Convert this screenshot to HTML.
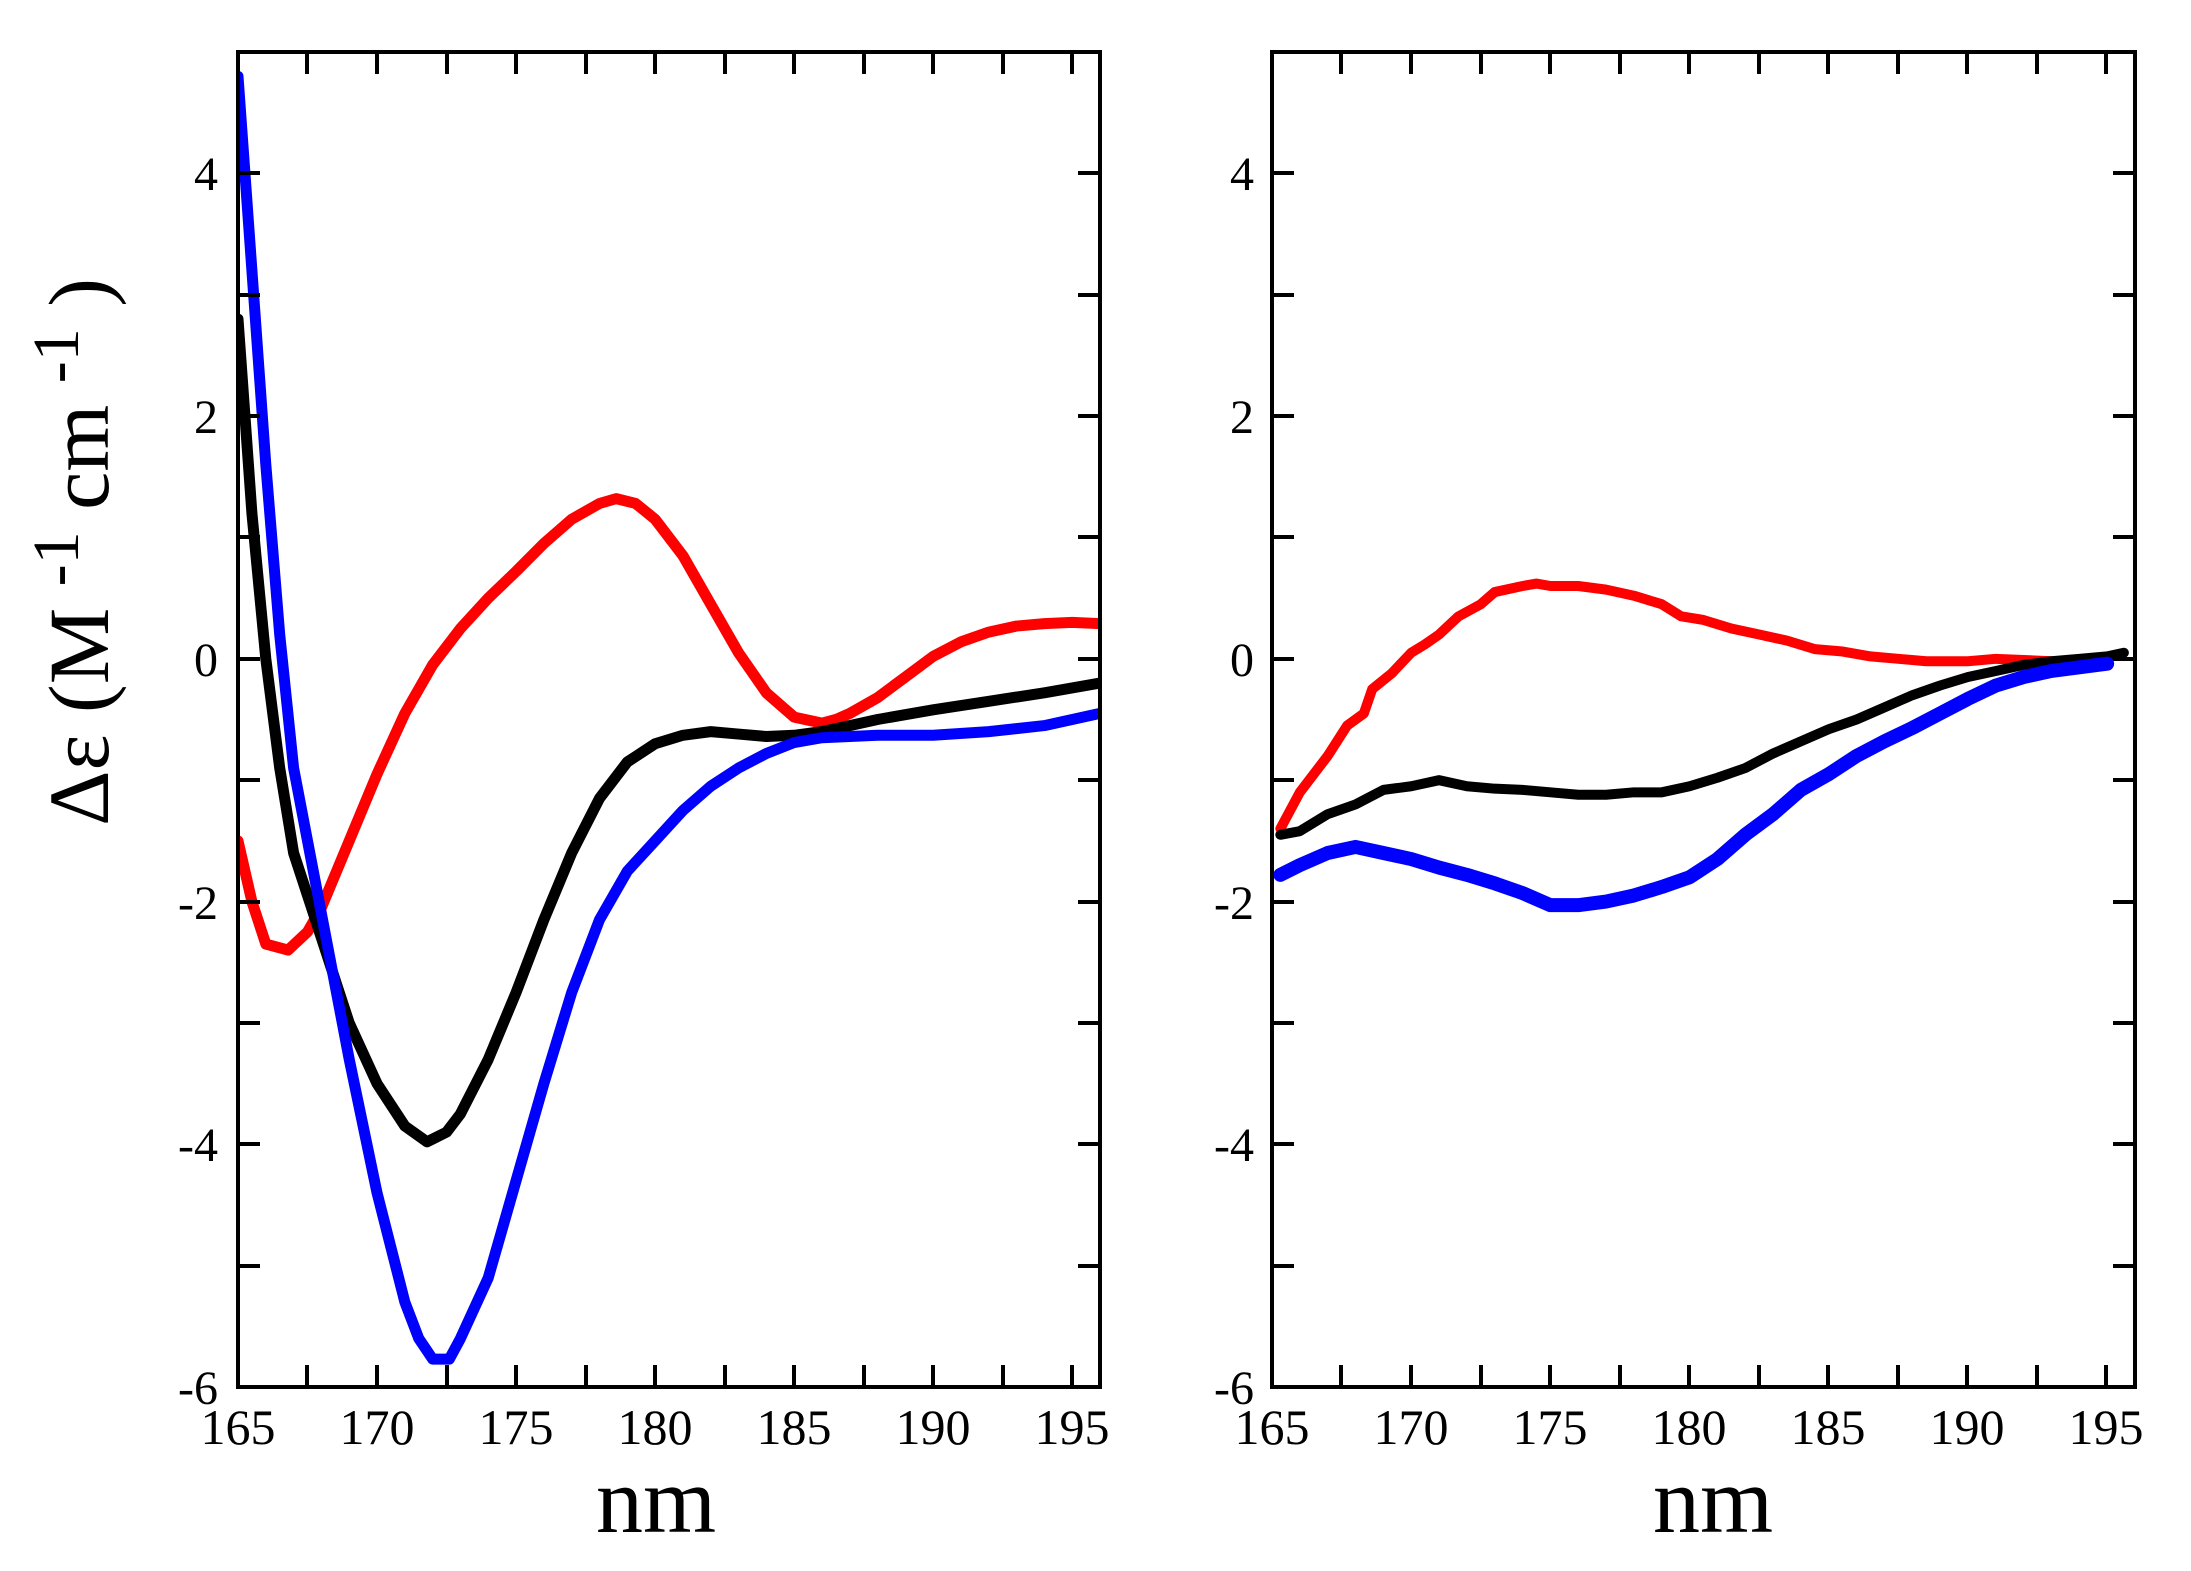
<!DOCTYPE html>
<html><head><meta charset="utf-8"><style>
html,body{margin:0;padding:0;background:#fff;}
svg{display:block;}
text{font-family:"Liberation Serif",serif;fill:#000;}
</style></head><body>
<svg width="2191" height="1571" viewBox="0 0 2191 1571" xmlns="http://www.w3.org/2000/svg">
<!-- LEFT PANEL -->
<svg x="238" y="52" width="862" height="1335" viewBox="165 -5 31 11" preserveAspectRatio="none" overflow="hidden">
<g fill="none" stroke-linejoin="round" stroke-linecap="round">
<polyline vector-effect="non-scaling-stroke" stroke="#ff0000" stroke-width="11" points="165,1.5 165.5,2.0 166,2.35 166.8,2.4 167.5,2.25 168,2.05 169,1.5 170,0.95 171,0.45 172,0.05 173,-0.25 174,-0.5 175,-0.72 176,-0.95 177,-1.15 178,-1.28 178.6,-1.32 179.3,-1.28 180,-1.15 181,-0.85 182,-0.45 183,-0.05 184,0.28 185,0.48 186,0.53 186.5,0.5 187,0.45 188,0.32 189,0.15 190,-0.02 191,-0.14 192,-0.22 193,-0.27 194,-0.29 195,-0.3 196,-0.29"/>
<polyline vector-effect="non-scaling-stroke" stroke="#000" stroke-width="11" points="165,-2.8 165.5,-1.2 166,0 166.5,0.9 167,1.6 168,2.3 169,3.0 170,3.5 171,3.85 171.8,3.98 172.5,3.9 173,3.75 174,3.3 175,2.75 176,2.15 177,1.6 178,1.15 179,0.85 180,0.7 181,0.63 182,0.6 183,0.62 184,0.64 185,0.63 186,0.6 187,0.55 188,0.5 190,0.42 192,0.35 194,0.28 196,0.2"/>
<polyline vector-effect="non-scaling-stroke" stroke="#0000ff" stroke-width="11" points="165,-4.8 165.5,-3.2 166,-1.6 166.5,-0.2 167,0.9 168,2.1 169,3.3 170,4.4 171,5.3 171.5,5.6 172,5.77 172.6,5.77 173,5.6 174,5.1 175,4.3 176,3.5 177,2.75 178,2.15 179,1.75 180,1.5 181,1.25 182,1.05 183,0.9 184,0.78 185,0.69 186,0.65 188,0.63 190,0.63 192,0.6 194,0.55 196,0.45"/>
</g>
</svg>
<!-- RIGHT PANEL -->
<svg x="1272" y="52" width="863" height="1335" viewBox="165 -5 31 11" preserveAspectRatio="none" overflow="hidden">
<g fill="none" stroke-linejoin="round" stroke-linecap="round">
<polyline vector-effect="non-scaling-stroke" stroke="#ff0000" stroke-width="10" points="165.3,1.4 166,1.1 167,0.8 167.7,0.55 168.3,0.45 168.6,0.25 169.3,0.12 170,-0.05 170.5,-0.12 171,-0.2 171.7,-0.35 172.5,-0.45 173,-0.55 174,-0.6 174.5,-0.62 175,-0.6 176,-0.6 177,-0.57 178,-0.52 179,-0.45 179.7,-0.35 180.5,-0.32 181.5,-0.25 182.5,-0.2 183.5,-0.15 184.5,-0.08 185.5,-0.06 186.5,-0.02 187.5,0 188.5,0.02 190,0.02 191,0 192,0.01 193,0.02 194,0.02 195,0"/>
<polyline vector-effect="non-scaling-stroke" stroke="#000" stroke-width="10" points="165.3,1.45 166,1.42 167,1.28 168,1.2 169,1.08 170,1.05 171,1.0 172,1.05 173,1.07 174,1.08 175,1.1 176,1.12 177,1.12 178,1.1 179,1.1 180,1.05 181,0.98 182,0.9 183,0.78 184,0.68 185,0.58 186,0.5 187,0.4 188,0.3 189,0.22 190,0.15 191,0.1 192,0.05 193,0.02 194,0 195,-0.02 195.6,-0.05"/>
<polyline vector-effect="non-scaling-stroke" stroke="#0000ff" stroke-width="14" points="165.3,1.78 166,1.7 167,1.6 168,1.55 169,1.6 170,1.65 171,1.72 172,1.78 173,1.85 174,1.93 175,2.03 176,2.03 177,2.0 178,1.95 179,1.88 180,1.8 181,1.65 182,1.45 183,1.28 184,1.08 185,0.95 186,0.8 187,0.68 188,0.57 189,0.45 190,0.33 191,0.22 192,0.15 193,0.1 194,0.07 195,0.04"/>
</g>
</svg>

<g stroke="#000" stroke-width="4" fill="none">
<rect x="238" y="52" width="862" height="1335"/>
<rect x="1272" y="52" width="863" height="1335"/>
<path d="M238,173h22M238,416h22M238,659h22M238,902h22M238,1144h22
M238,295h22M238,537h22M238,780h22M238,1023h22M238,1266h22
M1100,173h-22M1100,416h-22M1100,659h-22M1100,902h-22M1100,1144h-22
M1100,295h-22M1100,537h-22M1100,780h-22M1100,1023h-22M1100,1266h-22"/>
<path d="M1272,173h22M1272,416h22M1272,659h22M1272,902h22M1272,1144h22
M1272,295h22M1272,537h22M1272,780h22M1272,1023h22M1272,1266h22
M2135,173h-22M2135,416h-22M2135,659h-22M2135,902h-22M2135,1144h-22
M2135,295h-22M2135,537h-22M2135,780h-22M2135,1023h-22M2135,1266h-22"/>
<path d="M377,1387v-22M516,1387v-22M655,1387v-22M794,1387v-22M933,1387v-22M1072,1387v-22
M307,1387v-22M447,1387v-22M586,1387v-22M725,1387v-22M864,1387v-22M1003,1387v-22
M377,52v22M516,52v22M655,52v22M794,52v22M933,52v22M1072,52v22
M307,52v22M447,52v22M586,52v22M725,52v22M864,52v22M1003,52v22"/>
<path d="M1411,1387v-22M1550,1387v-22M1689,1387v-22M1828,1387v-22M1967,1387v-22M2106,1387v-22
M1341,1387v-22M1481,1387v-22M1620,1387v-22M1759,1387v-22M1898,1387v-22M2037,1387v-22
M1411,52v22M1550,52v22M1689,52v22M1828,52v22M1967,52v22M2106,52v22
M1341,52v22M1481,52v22M1620,52v22M1759,52v22M1898,52v22M2037,52v22"/>
</g>

<g font-size="48" text-anchor="end">
<text x="218" y="190">4</text><text x="218" y="433">2</text><text x="218" y="676">0</text>
<text x="218" y="919">-2</text><text x="218" y="1161">-4</text><text x="218" y="1404">-6</text>
<text x="1254" y="190">4</text><text x="1254" y="433">2</text><text x="1254" y="676">0</text>
<text x="1254" y="919">-2</text><text x="1254" y="1161">-4</text><text x="1254" y="1404">-6</text>
</g>
<g font-size="50" text-anchor="middle">
<text x="238" y="1444">165</text><text x="377" y="1444">170</text><text x="516" y="1444">175</text>
<text x="655" y="1444">180</text><text x="794" y="1444">185</text><text x="933" y="1444">190</text><text x="1072" y="1444">195</text>
<text x="1272" y="1444">165</text><text x="1411" y="1444">170</text><text x="1550" y="1444">175</text>
<text x="1689" y="1444">180</text><text x="1828" y="1444">185</text><text x="1967" y="1444">190</text><text x="2106" y="1444">195</text>
</g>
<g font-size="94" text-anchor="middle">
<text x="656" y="1532">nm</text>
<text x="1713" y="1532">nm</text>
</g>
<text transform="translate(108,552) rotate(-90)" font-size="86" text-anchor="middle">Δε  (M <tspan font-size="66" dy="-30">-1</tspan><tspan dy="30"> cm </tspan><tspan font-size="66" dy="-30">-1</tspan><tspan dy="30"> )</tspan></text>
</svg>
</body></html>
